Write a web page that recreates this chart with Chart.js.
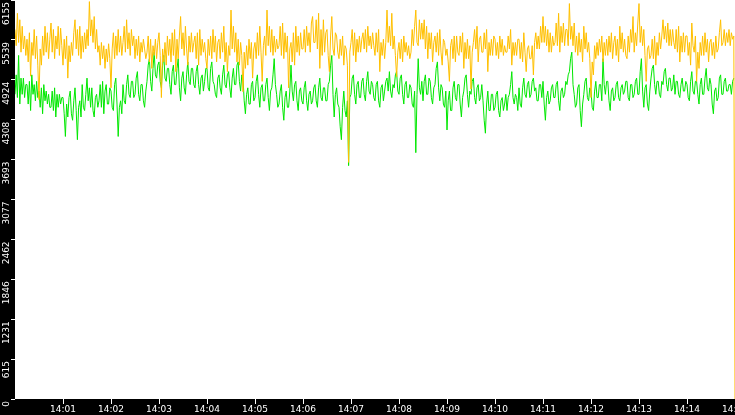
<!DOCTYPE html>
<html>
<head>
<meta charset="utf-8">
<script src="https://cdn.jsdelivr.net/npm/chart.js@4.4.1/dist/chart.umd.min.js"></script>
<style>
  html, body { margin: 0; padding: 0; background: #000; }
  #wrap { width: 735px; height: 415px; position: relative; }
</style>
</head>
<body>
<div id="wrap"><canvas id="chart"></canvas></div>
<script>
// one sample every 1.5 seconds, starting at 14:00:00
const stepSeconds = 1.5;

const yellowSeries = [
  5700, 5450, 5950, 5500, 5850, 5350, 5750, 5400, 5600, 5300,
  5550, 5200, 5650, 4980, 5500, 5300, 5700, 5250, 5600, 5150,
  4620, 5400, 5150, 5600, 5300, 5750, 5350, 5650, 5250, 5550,
  5800, 5350, 5700, 5250, 5600, 5400, 5750, 5300, 5720, 5450,
  5150, 5550, 5250, 5600, 4950, 5450, 5200, 5500, 5300, 5650,
  5850, 5400, 5700, 5300, 5750, 5250, 5600, 5350, 5650, 5400,
  5700, 5450, 6130, 5600, 5850, 5500, 5900, 5400, 5700, 5350,
  5450, 5150, 5500, 5250, 5450, 5100, 5400, 5200, 5480, 5250,
  4800, 5400, 5650, 5250, 5600, 5300, 5700, 5350, 5600, 5300,
  5500, 5750, 5350, 5850, 5400, 5650, 5300, 5700, 5450, 5600,
  5250, 5550, 5300, 5600, 5200, 5500, 5350, 5550, 5400, 5250,
  5350, 5600, 5200, 5550, 5100, 5450, 5300, 5550, 5250, 5500,
  5650, 5300, 4650, 5400, 5200, 5500, 5150, 5600, 5300, 5550,
  5200, 5650, 5300, 5700, 5050, 5550, 5250, 5600, 5900, 5400,
  5650, 5300, 5750, 5400, 5150, 5600, 5350, 5650, 5350, 5500,
  5600, 5250, 5650, 5150, 5700, 5300, 5550, 5350, 5500, 5250,
  5100, 5550, 5300, 5600, 5250, 5700, 5350, 5600, 5200, 5500,
  5550, 5250, 5650, 5350, 5750, 5200, 5500, 5050, 5450, 5300,
  6000, 5400, 5750, 5350, 5650, 5200, 5550, 5150, 5500, 5300,
  4740, 5350, 5100, 5450, 5150, 5550, 5250, 5500, 4950, 5400,
  5500, 5250, 5650, 5300, 5750, 5350, 4900, 5450, 5600, 5300,
  6000, 5450, 5750, 5350, 5700, 5300, 5600, 5350, 5550, 5400,
  5450, 5750, 5300, 5800, 5250, 5650, 5350, 5600, 4800, 5400,
  5500, 5200, 5650, 5150, 5750, 5350, 5600, 5300, 5650, 5400,
  5400, 5700, 5350, 5750, 5450, 5650, 5350, 5800, 5900, 5500,
  5500, 5850, 5400, 5950, 5100, 5700, 5300, 5850, 5350, 5650,
  5700, 5300, 5050, 5600, 5900, 5400, 5300, 5650, 5600, 5350,
  5250, 5550, 5300, 5600, 5150, 5450, 5400, 5150, 3650, 5350,
  5500, 5700, 5300, 5650, 5200, 5550, 5350, 5600, 5350, 5550,
  5650, 5400, 5700, 5350, 5750, 5450, 5600, 5400, 5650, 5450,
  5300, 5650, 5350, 5700, 5050, 5500, 5300, 5550, 5250, 5500,
  6000, 5500, 5750, 5450, 5950, 5400, 5600, 5300, 4970, 5350,
  5500, 5250, 5550, 5200, 5600, 5350, 5500, 5300, 5450, 5250,
  5350, 5700, 5450, 5750, 6000, 5500, 5450, 5850, 5550, 5800,
  5550, 5850, 5400, 5750, 5250, 5650, 5400, 5650, 5200, 5500,
  5600, 5350, 5650, 5300, 5700, 5350, 5150, 5550, 5500, 5300,
  5400, 5200, 4900, 5450, 5550, 5250, 5600, 5200, 5600, 5350,
  5300, 5600, 5350, 5650, 5100, 5500, 5250, 5550, 5250, 5450,
  4780, 5350, 5500, 5700, 5400, 5750, 5200, 5550, 5600, 5350,
  5350, 5650, 5400, 5700, 5050, 5500, 5300, 5550, 5300, 5600,
  5550, 5300, 5500, 5250, 5600, 5350, 5550, 5300, 5450, 5350,
  5350, 5600, 5400, 5700, 5150, 5500, 5300, 5500, 5300, 5550,
  5550, 5250, 5500, 5200, 5650, 5350, 5050, 5400, 5450, 5250,
  5250, 5450, 5000, 5500, 5650, 5400, 5600, 5400, 5750, 5500,
  5900, 5500, 5750, 5450, 5700, 5350, 5650, 5350, 5600, 5450,
  5500, 5800, 5450, 5950, 5350, 5750, 5500, 5800, 5450, 5700,
  5700, 5450, 6100, 5550, 5750, 5450, 5800, 5350, 5600, 5300,
  5650, 5350, 5550, 5200, 5750, 5400, 5650, 5350, 5500, 5250,
  4650, 5200, 5000, 5450, 5250, 5500, 5300, 5550, 5350, 5600,
  5200, 5500, 5300, 5550, 5300, 5600, 5350, 5650, 5250, 5500,
  5600, 5300, 5550, 5200, 5750, 5400, 5650, 5350, 5550, 5300,
  5250, 5600, 5350, 5700, 5500, 5900, 5350, 5650, 5450, 5800,
  6100, 5500, 5750, 5450, 5700, 5300, 4900, 5400, 5450, 5250,
  5300, 5550, 5250, 5600, 5150, 5500, 5300, 5650, 5400, 5600,
  5850, 5550, 5750, 5500, 5800, 5450, 5700, 5450, 5700, 5500,
  5400, 5700, 5350, 5750, 5200, 5600, 5350, 5650, 5350, 5600,
  5600, 5300, 5500, 5150, 5800, 5450, 5350, 5600, 4900, 5350,
  5100, 5500, 5300, 5600, 5300, 5650, 5350, 5550, 5200, 5500,
  5550, 5300, 5500, 5250, 5600, 5350, 5400, 5650, 5850, 5450,
  5500, 5700, 5450, 5650, 5500, 5700, 5450, 5650, 5550, 5600,
  0
];

const greenSeries = [
  4700, 5000, 4650, 5300, 4550, 4950, 4700, 4950, 4650, 4850,
  4850, 4550, 4900, 4450, 5000, 4700, 4850, 4600, 4900, 4650,
  4750, 4500, 4800, 4400, 4850, 4600, 4750, 4550, 4700, 4500,
  4500, 4750, 4450, 4800, 4350, 4700, 4500, 4700, 4550, 4650,
  4650, 4400, 4050, 4550, 4350, 4650, 4750, 4400, 4300, 4600,
  4800, 4450, 4000, 4500, 4600, 4350, 4850, 4500, 4450, 4700,
  4950, 4600, 4800, 4500, 4800, 4450, 4350, 4650, 4700, 4500,
  4600, 4850, 4500, 4900, 4400, 4750, 4850, 4550, 4550, 4800,
  4750, 4500, 4450, 4850, 4950, 4550, 4050, 4500, 4600, 4400,
  4850, 4600, 4550, 4850, 5000, 4700, 4650, 4900, 4900, 4650,
  4700, 4950, 5050, 4700, 4600, 4850, 4850, 4600, 4500, 4750,
  4900, 5150, 5250, 4900, 4750, 5100, 5350, 5000, 4950, 5150,
  5200, 4900, 4800, 5150, 5300, 4950, 4900, 5100, 5100, 4850,
  4700, 5050, 5150, 4850, 4850, 5100, 5250, 4800, 4600, 4950,
  5050, 4800, 4700, 5000, 5200, 4900, 4850, 5100, 5100, 4850,
  4800, 5050, 5150, 4850, 4700, 4950, 5000, 4750, 4900, 5100,
  5100, 4800, 4750, 5100, 5200, 4900, 4850, 4700, 4650, 4950,
  5000, 4800, 4700, 5000, 5150, 4850, 4800, 5000, 5050, 4800,
  4650, 4950, 5100, 4850, 4850, 5150, 5200, 4900, 4750, 5000,
  4950, 4600, 4400, 4700, 4800, 4550, 4550, 4850, 4900, 4600,
  4650, 4900, 5000, 4700, 4500, 4800, 4850, 4600, 4600, 4850,
  4950, 4650, 4450, 4750, 4800, 5000, 5250, 4850, 4700, 4500,
  4550, 4750, 4850, 4500, 4300, 4650, 4750, 4500, 4500, 4750,
  5150, 4750, 4600, 4850, 4900, 4600, 4450, 4750, 4800, 4600,
  4550, 4800, 4900, 4600, 4450, 4700, 4750, 4550, 4600, 4800,
  4850, 4600, 4500, 4800, 4950, 4650, 4600, 4800, 4800, 4600,
  4600, 4850, 4900, 5150, 5300, 4700, 4350, 4700, 4800, 4550,
  4500, 4200, 4000, 4500, 4750, 4450, 4350, 4600, 3600, 4650,
  4700, 4950, 5000, 4700, 4550, 4850, 4900, 4650, 4650, 4900,
  4950, 4700, 4600, 4900, 5050, 4750, 4700, 4900, 4850, 4650,
  4600, 4850, 4900, 4600, 4500, 4800, 4850, 4600, 4750, 4900,
  4950, 4750, 5050, 4750, 4650, 4850, 4800, 5000, 5050, 4750,
  4700, 4950, 5000, 4700, 4550, 4850, 4900, 4650, 4650, 4850,
  4800, 4550, 4500, 4750, 3800, 4700, 5250, 4800, 4700, 4900,
  4600, 4900, 5000, 4700, 4700, 4950, 4900, 4650, 4550, 4800,
  4850, 5100, 5200, 4800, 4600, 4850, 4800, 4550, 4500, 4750,
  4150, 4600, 4750, 4450, 4450, 4800, 4900, 4650, 4600, 4850,
  4850, 4550, 4350, 4650, 4750, 4950, 5000, 4700, 4500, 4750,
  4700, 4900, 4950, 4650, 4550, 4800, 4850, 4600, 4650, 4850,
  4600, 4300, 4100, 4550, 4750, 4450, 4450, 4700, 4700, 4450,
  4500, 4700, 4750, 4450, 4350, 4600, 4650, 4450, 4550, 4700,
  4450, 4650, 4700, 4850, 5050, 4650, 4550, 4700, 4650, 4450,
  4800, 4550, 4500, 4800, 4950, 4700, 4650, 4850, 4900, 4650,
  4700, 4900, 4950, 4750, 4800, 4600, 4600, 4850, 4850, 4650,
  4900, 4550, 4300, 4650, 4750, 4550, 4600, 4800, 4850, 4650,
  4650, 4850, 4900, 4600, 4450, 4750, 4800, 4650, 4700, 4900,
  4850, 5000, 5050, 5250, 5350, 4850, 4700, 4500, 4550, 4800,
  4850, 4450, 4200, 4550, 4700, 4900, 4950, 4650, 4600, 4800,
  4750, 4500, 4450, 4750, 4900, 4650, 4650, 4850, 4850, 4600,
  5250, 4850, 4700, 4900, 4900, 4600, 4450, 4750, 4800, 4600,
  4650, 4850, 4900, 4650, 4600, 4800, 4850, 4700, 4750, 4900,
  4900, 4650, 4600, 4850, 4850, 4650, 4700, 4900, 4950, 4700,
  4700, 5050, 5250, 4750, 4500, 4800, 4850, 4550, 4450, 4750,
  4950, 5100, 5150, 4850, 4700, 4900, 4900, 4700, 4650, 4900,
  4850, 5050, 5100, 4850, 4750, 4950, 4950, 4750, 4800, 5000,
  4700, 4900, 4900, 4700, 4650, 4850, 4950, 4750, 4750, 4900,
  4850, 4650, 4600, 4900, 5050, 4750, 4700, 4900, 4900, 4700,
  4550, 4850, 4950, 4700, 4700, 4950, 5100, 4800, 4750, 4950,
  4850, 4550, 4400, 4750, 4800, 4600, 4650, 4950, 5000, 4700,
  4700, 4900, 4950, 4750, 4750, 4850, 4850, 4700, 4900, 4950
];

const xTickValues = [60, 120, 180, 240, 300, 360, 420, 480, 540, 600, 660, 720, 780, 840, 900];
const xTickLabels = ['14:01', '14:02', '14:03', '14:04', '14:05', '14:06', '14:07', '14:08',
                     '14:09', '14:10', '14:11', '14:12', '14:13', '14:14', '14:15'];
const yTickValues = [0, 615.5, 1231, 1846.5, 2462, 3077.5, 3693, 4308.5, 4924, 5539.5, 6155];
const yTickLabels = ['0', '615', '1231', '1846', '2462', '3077', '3693', '4308', '4924', '5539', '6155'];

const toPoints = arr => arr.map((v, i) => ({ x: i * stepSeconds, y: v }));

// black frame around a white plot area
const frameBg = {
  id: 'frameBg',
  beforeDraw(chart) {
    const { ctx, chartArea: a } = chart;
    ctx.save();
    ctx.fillStyle = '#000';
    ctx.fillRect(0, 0, chart.width, chart.height);
    ctx.fillStyle = '#fff';
    ctx.fillRect(a.left, a.top, a.right - a.left, a.bottom - a.top);
    ctx.restore();
  }
};

const tickFont = { family: 'DejaVu Sans', size: 9 };

new Chart(document.getElementById('chart'), {
  type: 'line',
  data: {
    datasets: [
      { data: toPoints(yellowSeries), borderColor: '#ffc000', borderWidth: 1 },
      { data: toPoints(greenSeries), borderColor: '#00e800', borderWidth: 1 }
    ]
  },
  options: {
    responsive: true,
    maintainAspectRatio: false,
    animation: false,
    parsing: false,
    layout: { padding: 0 },
    elements: { point: { radius: 0 }, line: { tension: 0 } },
    plugins: { legend: { display: false }, tooltip: { enabled: false } },
    scales: {
      x: {
        type: 'linear',
        min: 0,
        max: 900,
        border: { display: false },
        grid: { drawOnChartArea: false, color: '#fff', tickLength: 5 },
        afterBuildTicks: s => { s.ticks = xTickValues.map(v => ({ value: v })); },
        afterFit: s => { s.height = 16; s.paddingLeft = 0; s.paddingRight = 0; },
        ticks: {
          color: '#fff',
          font: tickFont,
          padding: 0,
          maxRotation: 0,
          autoSkip: false,
          callback: (v, i) => xTickLabels[i]
        }
      },
      y: {
        min: 0,
        max: 6155,
        border: { display: false },
        grid: { drawOnChartArea: false, color: '#fff', tickLength: 4 },
        afterBuildTicks: s => { s.ticks = yTickValues.map(v => ({ value: v })); },
        afterFit: s => { s.width = 15; s.paddingTop = 0; s.paddingBottom = 0; },
        ticks: {
          color: '#fff',
          font: tickFont,
          padding: 4,
          labelOffset: 2,
          minRotation: 90,
          maxRotation: 90,
          autoSkip: false,
          callback: (v, i) => yTickLabels[i]
        }
      }
    }
  },
  plugins: [frameBg]
});
</script>
</body>
</html>
